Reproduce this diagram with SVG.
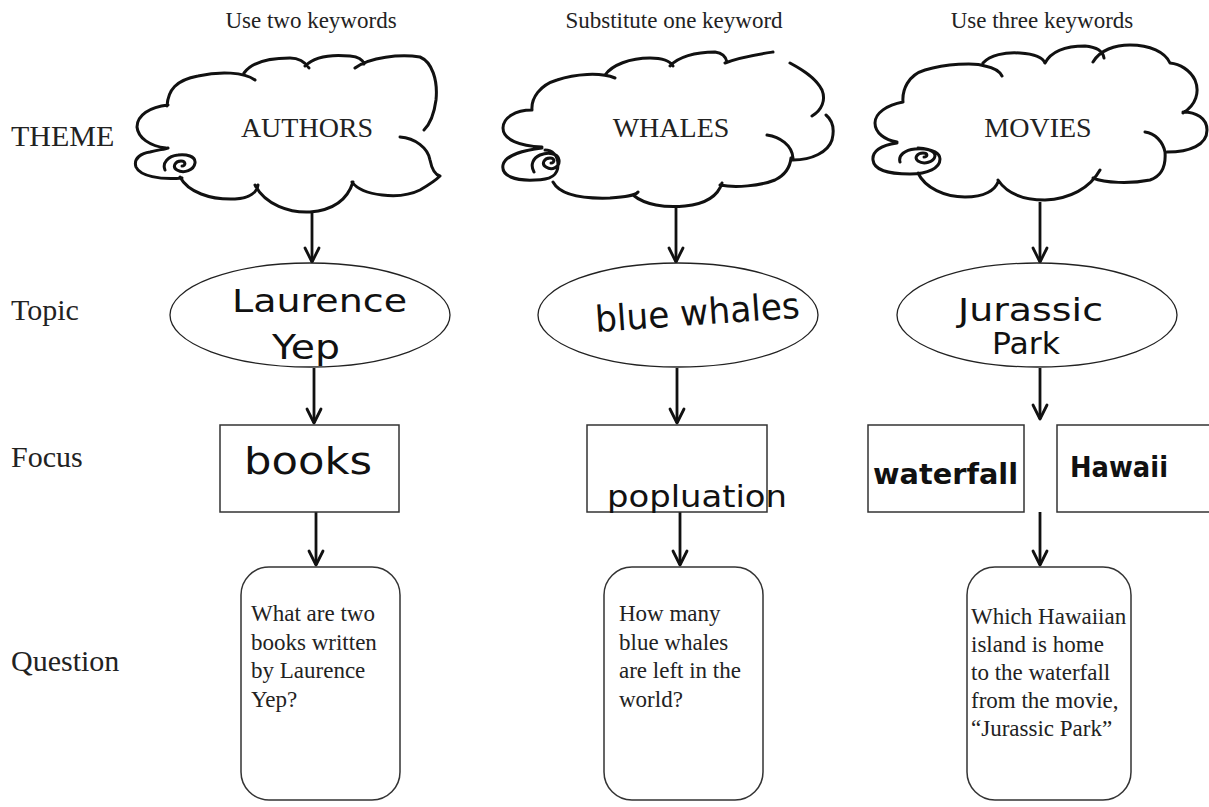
<svg xmlns="http://www.w3.org/2000/svg" width="1209" height="807" viewBox="0 0 1209 807">
<style>
.hdr{font-family:"Liberation Serif","Times New Roman",serif;font-size:23px;fill:#222;text-anchor:middle}
.lbl{font-family:"Liberation Serif","Times New Roman",serif;font-size:30px;fill:#222}
.ct{font-family:"Liberation Serif","Times New Roman",serif;font-size:28px;fill:#222;text-anchor:middle}
.q{font-family:"Liberation Serif","Times New Roman",serif;font-size:23px;fill:#222}
.hw{font-family:"DejaVu Sans","Noto Sans",sans-serif;fill:#111}
.cloud{fill:none;stroke:#111;stroke-width:3;stroke-linecap:round;stroke-linejoin:round}
.ell{fill:#fff;stroke:#222;stroke-width:1.3}
.box{fill:#fff;stroke:#333;stroke-width:1.5}
.qbox{fill:#fff;stroke:#333;stroke-width:1.5}
.arr{stroke:#111;stroke-width:2.8;fill:none;marker-end:url(#v)}
</style>
<defs>
<marker id="v" viewBox="-16 -9 18 18" refX="0" refY="0" markerWidth="18" markerHeight="18" markerUnits="userSpaceOnUse" orient="auto">
<path d="M-14,-7 L0,0 L-14,7" fill="none" stroke="#111" stroke-width="2.8" stroke-linecap="round" stroke-linejoin="round"/>
</marker>
</defs>
<rect width="1209" height="807" fill="#fff"/>

<g id="headers">
<text class="hdr" x="311" y="28">Use two keywords</text>
<text class="hdr" x="674" y="28">Substitute one keyword</text>
<text class="hdr" x="1042" y="28">Use three keywords</text>
</g>

<g id="row-labels">
<text class="lbl" x="11" y="146">THEME</text>
<text class="lbl" x="11" y="320">Topic</text>
<text class="lbl" x="11" y="467">Focus</text>
<text class="lbl" x="11" y="671">Question</text>
</g>

<g id="connectors">
<line class="arr" x1="312" y1="211" x2="312" y2="262"/>
<line class="arr" x1="314" y1="368" x2="314" y2="423"/>
<line class="arr" x1="316" y1="512" x2="316" y2="565"/>
<line class="arr" x1="676" y1="208" x2="676" y2="262"/>
<line class="arr" x1="677" y1="368" x2="677" y2="423"/>
<line class="arr" x1="680" y1="512" x2="680" y2="565"/>
<line class="arr" x1="1040" y1="202" x2="1040" y2="262"/>
<line class="arr" x1="1040" y1="368" x2="1040" y2="419"/>
<line class="arr" x1="1040" y1="512" x2="1040" y2="565"/>
</g>

<g id="cloud-authors">
<path class="cloud" d="M167,106 C168,90 176,80 198,76 C220,71 244,72 255,80
M244,73 C252,62 268,58 290,58 C300,58 305,62 309,68
M305,66 C315,56 330,54 350,56 C360,57 363,60 364,64
M355,68 C370,57 400,54 420,57 C432,62 438,80 436,100 C434,115 430,124 424,130
M400,137 C415,138 428,148 430,160 C432,170 436,175 440,176
M352,182 C362,196 400,200 420,190 C432,183 438,178 440,176
M255,185 C265,205 290,213 310,212 C335,210 348,198 353,182
M180,177 C188,192 210,200 235,199 C250,198 257,192 258,185
M182,178 C160,180 140,176 136,167 C133,158 142,153 150,152 C158,150 165,149 168,148
M166,148 C150,146 138,138 137,127 C137,115 150,107 168,105
M182,166 C186,166 186,161 181,161 C175,161 172,167 177,170 C184,174 194,170 195,163 C196,156 186,154 178,155 C168,156 162,163 165,170"/>
<text class="ct" x="307" y="137">AUTHORS</text>
</g>

<g id="cloud-whales">
<path class="cloud" d="M542,147 C520,146 503,140 503,128 C503,118 515,110 532,110
M542,148 C525,150 505,155 503,165 C501,176 515,181 535,180 C550,180 558,176 558,165 C558,155 552,150 545,150
M551,163 C555,163 555,158 550,158 C544,158 541,164 546,167 C552,171 560,167 559,160 C558,153 548,152 540,155 C533,158 530,165 534,172
M553,182 C560,195 580,199 610,198 C625,197 635,196 638,192
M633,195 C645,205 665,208 685,206 C705,204 718,196 722,183
M720,185 C735,188 760,186 775,180 C785,175 790,168 791,158
M767,135 C780,137 792,145 793,158
M793,160 C812,160 828,152 832,140 C835,128 832,120 826,115
M812,116 C822,110 826,100 822,90 C816,78 803,70 790,63
M725,63 C740,57 760,54 773,52
M532,110 C531,98 540,85 557,80 C575,74 600,72 615,78
M605,75 C612,65 630,58 650,58 C662,58 670,61 673,66
M670,66 C678,57 695,52 715,52 C722,53 726,57 727,62"/>
<text class="ct" x="671" y="137">WHALES</text>
</g>

<g id="cloud-movies">
<path class="cloud" d="M897,142 C885,140 875,133 875,123 C875,113 887,105 903,102
M897,143 C880,145 872,152 873,160 C874,170 888,174 910,174 C928,174 940,168 940,159 C940,152 930,149 918,148
M924,157 C928,157 928,153 923,153 C917,153 914,158 918,161 C924,165 934,162 935,156 C935,150 925,148 915,149 C905,150 898,155 900,162
M918,173 C925,188 945,197 965,197 C985,197 995,190 998,182
M998,180 C1008,195 1025,200 1045,200 C1070,199 1090,188 1100,170
M1093,178 C1105,183 1130,184 1150,180 C1162,176 1166,165 1165,152
M1145,132 C1155,133 1163,142 1165,152
M1167,152 C1190,152 1207,145 1207,130 C1207,118 1196,112 1183,112
M1183,113 C1196,105 1200,92 1195,80 C1190,70 1180,64 1170,63
M903,102 C902,90 908,75 925,70 C945,64 975,62 985,66 C995,68 1000,72 1002,76
M983,63 C990,55 1005,52 1020,53 C1035,54 1043,58 1045,63
M1045,63 C1052,50 1068,46 1085,46 C1097,47 1103,52 1104,58
M1093,62 C1100,50 1115,45 1130,45 C1150,45 1165,52 1170,63"/>
<text class="ct" x="1038" y="137">MOVIES</text>
</g>

<g id="topic-1">
<ellipse class="ell" cx="310" cy="315" rx="140" ry="52"/>
<text class="hw" x="232" y="312" font-size="32" textLength="175" lengthAdjust="spacingAndGlyphs">Laurence</text>
<text class="hw" x="272" y="359" font-size="34" textLength="68" lengthAdjust="spacingAndGlyphs">Yep</text>
</g>
<g id="topic-2">
<ellipse class="ell" cx="678" cy="315" rx="140" ry="52"/>
<text class="hw" x="596" y="332" font-size="36" textLength="205" lengthAdjust="spacingAndGlyphs" transform="rotate(-4 596 332)">blue whales</text>
</g>
<g id="topic-3">
<ellipse class="ell" cx="1037" cy="315" rx="140" ry="52"/>
<text class="hw" x="958" y="321" font-size="32" textLength="145" lengthAdjust="spacingAndGlyphs">Jurassic</text>
<text class="hw" x="992" y="354" font-size="30" textLength="68" lengthAdjust="spacingAndGlyphs">Park</text>
</g>

<g id="focus-1">
<rect class="box" x="220" y="425" width="179" height="87"/>
<text class="hw" x="244" y="474" font-size="38" textLength="128" lengthAdjust="spacingAndGlyphs">books</text>
</g>
<g id="focus-2">
<rect class="box" x="587" y="425" width="180" height="87"/>
<text class="hw" x="607" y="507" font-size="30" textLength="180" lengthAdjust="spacingAndGlyphs">popluation</text>
</g>
<g id="focus-3a">
<rect class="box" x="868" y="425" width="156" height="87"/>
<text class="hw" x="873" y="484" font-size="28" font-weight="bold" textLength="145" lengthAdjust="spacingAndGlyphs">waterfall</text>
</g>
<g id="focus-3b">
<rect class="box" x="1057" y="425" width="160" height="87"/>
<text class="hw" x="1070" y="477" font-size="28" font-weight="bold" textLength="98" lengthAdjust="spacingAndGlyphs">Hawaii</text>
</g>

<g id="question-1">
<rect class="qbox" x="241" y="567" width="159" height="233" rx="28"/>
<text class="q" x="251" y="621">What are two</text>
<text class="q" x="251" y="649.5">books written</text>
<text class="q" x="251" y="678">by Laurence</text>
<text class="q" x="251" y="706.5">Yep?</text>
</g>
<g id="question-2">
<rect class="qbox" x="604" y="567" width="159" height="233" rx="28"/>
<text class="q" x="619" y="621">How many</text>
<text class="q" x="619" y="649.5">blue whales</text>
<text class="q" x="619" y="678">are left in the</text>
<text class="q" x="619" y="706.5">world?</text>
</g>
<g id="question-3">
<rect class="qbox" x="967" y="567" width="164" height="233" rx="28"/>
<text class="q" x="971" y="624">Which Hawaiian</text>
<text class="q" x="971" y="652">island is home</text>
<text class="q" x="971" y="680">to the waterfall</text>
<text class="q" x="971" y="708">from the movie,</text>
<text class="q" x="971" y="736">“Jurassic Park”</text>
</g>
</svg>
